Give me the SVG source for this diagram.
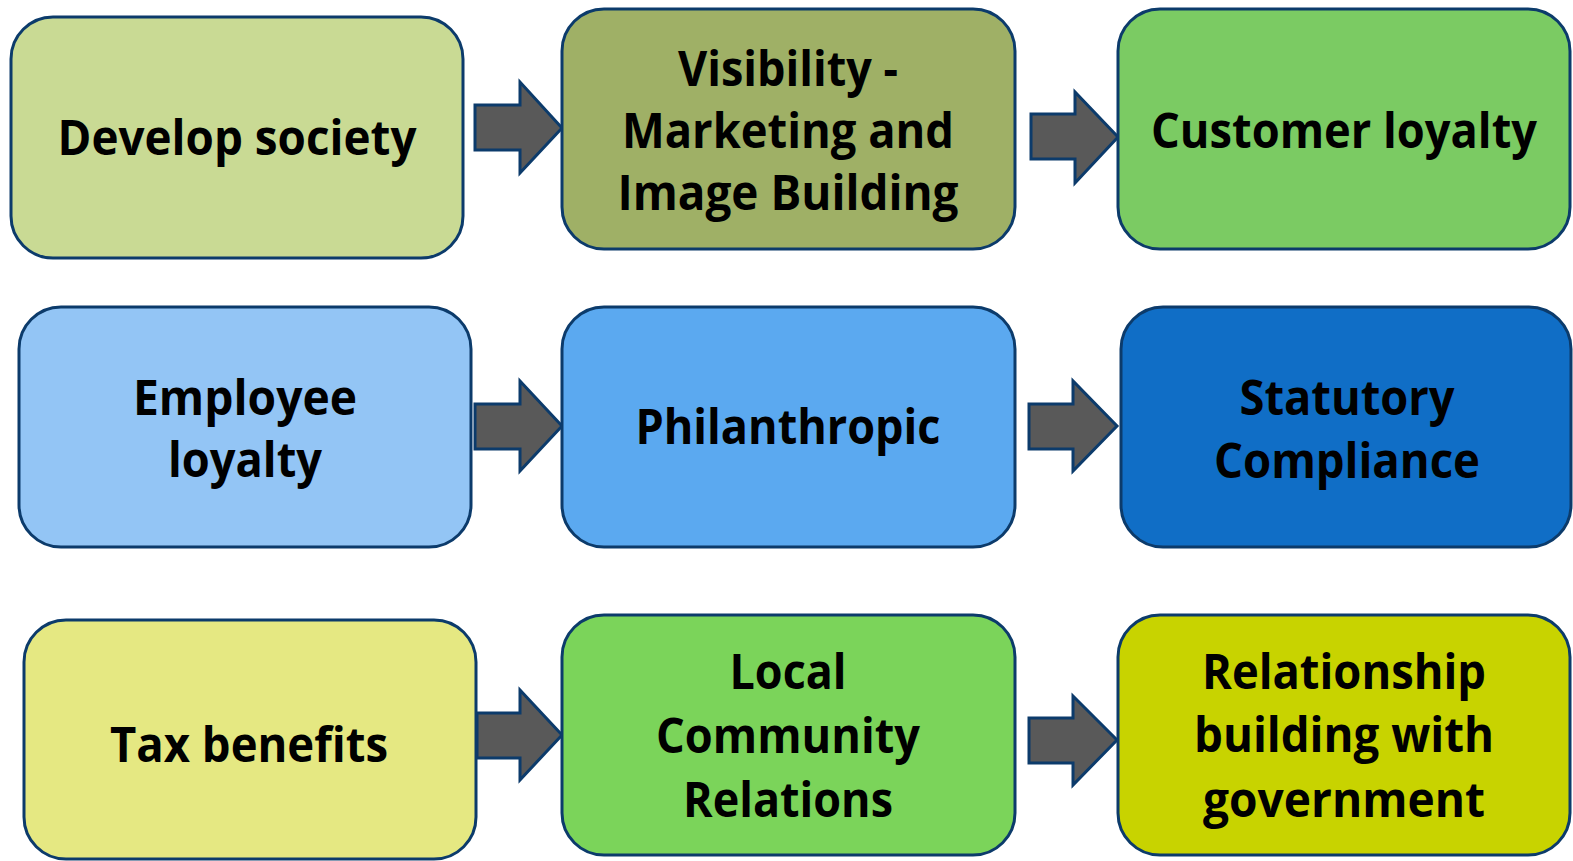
<svg xmlns="http://www.w3.org/2000/svg" width="1573" height="861" viewBox="0 0 1573 861">
<style>
.box{stroke:#0C3B6B;stroke-width:3}
.arr{fill:#595959;stroke:#0C3B6B;stroke-width:3;stroke-linejoin:miter}
text{font-family:"Open Sans","Lato","DejaVu Sans",sans-serif;font-weight:bold;font-size:49px;fill:#000;text-anchor:middle}
</style>
<rect width="1573" height="861" fill="#fff"/>
<g id="connectors">
<polygon class="arr" points="475,105 520,105 520,82 562,128 520,173 520,150 475,150"/>
<polygon class="arr" points="1031,114 1075,114 1075,92 1118,137 1075,183 1075,159 1031,159"/>
<polygon class="arr" points="475,404 520,404 520,381 562,426 520,471 520,449 475,449"/>
<polygon class="arr" points="1029,404 1073,404 1073,381 1117,426 1073,471 1073,449 1029,449"/>
<polygon class="arr" points="477,713 520,713 520,690 562,735 520,780 520,758 477,758"/>
<polygon class="arr" points="1029,718 1073,718 1073,696 1117,740 1073,785 1073,763 1029,763"/>
</g>
<g id="n1"><rect class="box" x="11" y="17" width="452" height="241" rx="42" fill="#C9DA94"/>
<text x="237" y="155" textLength="359" lengthAdjust="spacingAndGlyphs">Develop society</text></g>
<g id="n2"><rect class="box" x="562" y="9" width="453" height="240" rx="42" fill="#9FB066"/>
<text x="788" y="86" textLength="220" lengthAdjust="spacingAndGlyphs">Visibility -</text>
<text x="788" y="148" textLength="332" lengthAdjust="spacingAndGlyphs">Marketing and</text>
<text x="788" y="210" textLength="341" lengthAdjust="spacingAndGlyphs">Image Building</text></g>
<g id="n3"><rect class="box" x="1118" y="9" width="452" height="240" rx="42" fill="#7BCB63"/>
<text x="1344" y="148" textLength="386" lengthAdjust="spacingAndGlyphs">Customer loyalty</text></g>
<g id="n4"><rect class="box" x="19" y="307" width="452" height="240" rx="42" fill="#93C5F5"/>
<text x="245" y="415" textLength="224" lengthAdjust="spacingAndGlyphs">Employee</text>
<text x="245" y="477" textLength="154" lengthAdjust="spacingAndGlyphs">loyalty</text></g>
<g id="n5"><rect class="box" x="562" y="307" width="453" height="240" rx="42" fill="#5BA9F0"/>
<text x="788" y="444" textLength="305" lengthAdjust="spacingAndGlyphs">Philanthropic</text></g>
<g id="n6"><rect class="box" x="1121" y="307" width="450" height="240" rx="42" fill="#106EC6"/>
<text x="1347" y="415" textLength="215" lengthAdjust="spacingAndGlyphs">Statutory</text>
<text x="1347" y="478" textLength="266" lengthAdjust="spacingAndGlyphs">Compliance</text></g>
<g id="n7"><rect class="box" x="24" y="620" width="452" height="239" rx="42" fill="#E5E882"/>
<text x="249" y="762" textLength="278" lengthAdjust="spacingAndGlyphs">Tax benefits</text></g>
<g id="n8"><rect class="box" x="562" y="615" width="453" height="240" rx="42" fill="#7BD45A"/>
<text x="788" y="689" textLength="117" lengthAdjust="spacingAndGlyphs">Local</text>
<text x="788" y="753" textLength="264" lengthAdjust="spacingAndGlyphs">Community</text>
<text x="788" y="817" textLength="210" lengthAdjust="spacingAndGlyphs">Relations</text></g>
<g id="n9"><rect class="box" x="1118" y="615" width="452" height="240" rx="42" fill="#C8D300"/>
<text x="1344" y="689" textLength="284" lengthAdjust="spacingAndGlyphs">Relationship</text>
<text x="1344" y="752" textLength="300" lengthAdjust="spacingAndGlyphs">building with</text>
<text x="1344" y="817" textLength="282" lengthAdjust="spacingAndGlyphs">government</text></g>
</svg>
